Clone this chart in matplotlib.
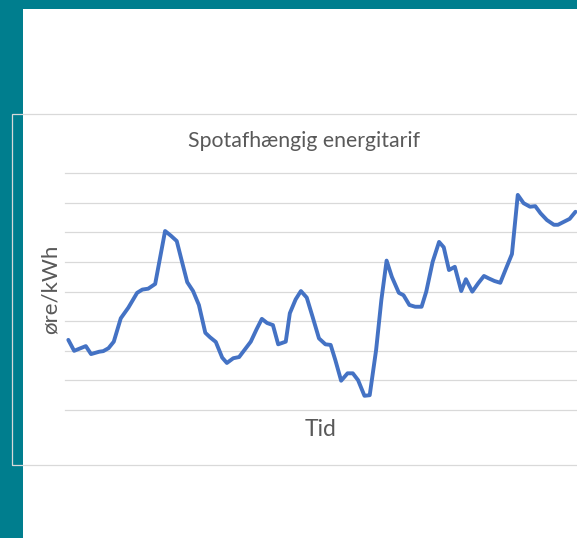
import matplotlib
matplotlib.use("Agg")
import matplotlib.pyplot as plt
from matplotlib.patches import Rectangle

# tidspunkt (hour index) and spot tariff
tid = [0, 1.0, 3.0, 3.9, 5.3, 6.0, 6.9, 7.8, 9.0, 10.3, 11.8, 12.7, 13.7, 14.9,
       16.6, 17.6, 18.6, 19.5, 20.4, 21.4, 22.4, 23.5, 24.3, 25.3, 26.4, 27.2,
       28.3, 29.3, 30.3, 31.3, 32.3, 33.2, 34.1, 35.1, 36.0, 37.3, 38.0, 39.0,
       39.9, 40.9, 41.9, 43.0, 44.1, 45.0, 45.8, 46.8, 47.9, 48.8, 49.7, 50.8,
       51.7, 52.8, 53.7, 54.6, 55.5, 56.7, 57.5, 58.5, 59.5, 60.6, 61.4, 62.5,
       63.6, 64.4, 65.3, 66.3, 67.4, 68.2, 69.3, 70.3, 71.3, 72.1, 73.1, 74.1,
       75.1, 76.1, 77.1, 78.1, 79.2, 80.1, 81.0, 82.1, 83.3, 84.0, 85.0, 86.0,
       87.0]
pris = [2.37, 2.00, 2.16, 1.89, 1.97, 1.99, 2.09, 2.31, 3.10, 3.46, 3.96, 4.07,
        4.10, 4.26, 6.05, 5.89, 5.71, 5.01, 4.32, 4.02, 3.55, 2.61, 2.46, 2.30,
        1.77, 1.59, 1.75, 1.79, 2.05, 2.31, 2.73, 3.08, 2.94, 2.87, 2.22, 2.31,
        3.27, 3.74, 4.02, 3.80, 3.15, 2.42, 2.22, 2.20, 1.69, 0.99, 1.24, 1.24,
        1.01, 0.48, 0.50, 2.03, 3.72, 5.05, 4.50, 3.96, 3.88, 3.55, 3.49, 3.49,
        4.00, 5.01, 5.68, 5.50, 4.73, 4.84, 4.02, 4.42, 4.00, 4.28, 4.53, 4.45,
        4.36, 4.30, 4.79, 5.27, 7.27, 6.99, 6.87, 6.89, 6.65, 6.42, 6.26, 6.26,
        6.36, 6.46, 6.70]
grid_vals = [0, 1, 2, 3, 4, 5, 6, 7, 8]

W, H = 577, 538
fig = plt.figure(figsize=(W / 100, H / 100), dpi=100)
fig.patch.set_facecolor("white")

teal = "#007E8E"
fig.patches.append(Rectangle((0, 0), 22.5 / W, 1, transform=fig.transFigure,
                             facecolor=teal, edgecolor="none", zorder=0))
fig.patches.append(Rectangle((0, 1 - 8.5 / H), 1, 8.5 / H, transform=fig.transFigure,
                             facecolor=teal, edgecolor="none", zorder=0))
# chart frame
fig.patches.append(Rectangle((12 / W, 1 - 465 / H), 583 / W, 351.5 / H,
                             transform=fig.transFigure, facecolor="none",
                             edgecolor="#D9D9D9", linewidth=0.9, zorder=1))

ax = fig.add_axes([65.4 / W, 1 - 410 / H, 513 / W, (410 - 173.3) / H])
ax.set_facecolor("none")
ax.set_xlim(-0.5, 87.5)
ax.set_ylim(0, 8)
for g in grid_vals:
    ax.axhline(g, color="#D9D9D9", linewidth=0.9, zorder=1, clip_on=False)
ax.plot(tid, pris, color="#4472C4", linewidth=2.8, solid_joinstyle="round",
        solid_capstyle="round", zorder=3, clip_on=False)
for s in ax.spines.values():
    s.set_visible(False)
ax.set_xticks([])
ax.set_yticks([])

font = "Lato"
fig.text(304 / W, 1 - 141 / H, "Spotafhængig energitarif", ha="center",
         va="center", fontsize=15.3, color="#595959", family=font)
fig.text(50.5 / W, 1 - 289 / H, "øre/kWh", ha="center", va="center",
         rotation=90, fontsize=16, color="#595959", family=font)
fig.text(321 / W, 1 - 430 / H, "Tid", ha="center", va="center",
         fontsize=16.5, color="#595959", family=font)

fig.savefig("out.png", dpi=100)
